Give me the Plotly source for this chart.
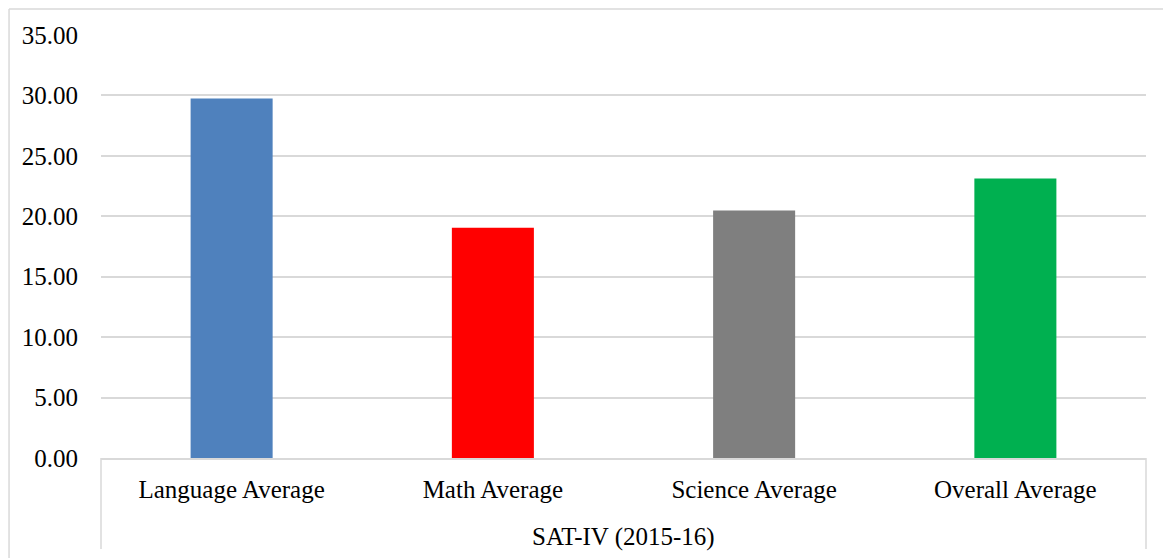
import plotly.graph_objects as go

group = "SAT-IV (2015-16)"
categories = ["Language Average", "Math Average", "Science Average", "Overall Average"]
values = [29.75, 19.06, 20.47, 23.12]
colors = ["#4f81bd", "#ff0000", "#7f7f7f", "#00b050"]
y_ticks = [0, 5, 10, 15, 20, 25, 30, 35]

FONT = "Liberation Serif"
GRID = "#d9d9d9"
FS = 25

fig = go.Figure(
    go.Bar(
        x=categories,
        y=values,
        marker=dict(color=colors, line=dict(width=0)),
        width=0.314,
    )
)

fig.update_layout(
    width=1163,
    height=550,
    margin=dict(l=93, r=25, t=27, b=100),
    paper_bgcolor="white",
    plot_bgcolor="white",
    showlegend=False,
    font=dict(family=FONT, size=FS, color="#000000"),
)

fig.update_xaxes(
    type="category",
    showline=True,
    linecolor=GRID,
    linewidth=1.5,
    ticks="",
    showgrid=False,
    ticklabelstandoff=8,
    tickfont=dict(family=FONT, size=FS, color="#000000"),
)

fig.update_yaxes(
    range=[0, 35],
    tickvals=y_ticks,
    tickformat=".2f",
    showgrid=True,
    gridcolor=GRID,
    gridwidth=1.5,
    zeroline=False,
    showline=False,
    ticks="",
    ticklabelstandoff=22,
    tickfont=dict(family=FONT, size=FS, color="#000000"),
)

# group dividers at both ends of the category axis
for xd in (0, 1):
    fig.add_shape(type="line", xref="x domain", yref="paper",
                  x0=xd, x1=xd, y0=0, y1=-0.215,
                  line=dict(color=GRID, width=1.5))

# group label
fig.add_annotation(text=group, xref="x domain", yref="paper",
                   x=0.5, y=-0.187, yanchor="middle", showarrow=False,
                   font=dict(family=FONT, size=FS, color="#000000"))

# outer chart border (top and left edges visible in the frame)
fig.add_shape(type="line", xref="paper", yref="paper",
              x0=-0.088, x1=1.05, y0=1.0615, y1=1.0615,
              line=dict(color=GRID, width=1.5))
fig.add_shape(type="line", xref="paper", yref="paper",
              x0=-0.088, x1=-0.088, y0=1.0615, y1=-0.3,
              line=dict(color=GRID, width=1.5))

fig.write_html("out.html")
